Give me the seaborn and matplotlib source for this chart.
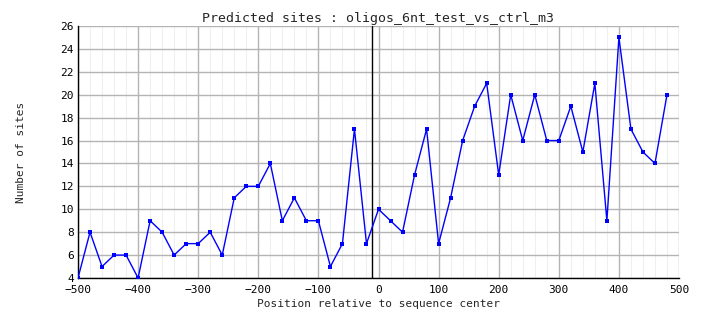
import matplotlib
matplotlib.use("Agg")
import matplotlib.pyplot as plt
import seaborn as sns
import pandas as pd
from matplotlib.ticker import MultipleLocator

# Site counts per 20-nt window, positions relative to sequence center
positions = [-500, -480, -460, -440, -420, -400, -380, -360, -340, -320,
             -300, -280, -260, -240, -220, -200, -180, -160, -140, -120,
             -100, -80, -60, -40, -20, 0, 20, 40, 60, 80,
             100, 120, 140, 160, 180, 200, 220, 240, 260, 280,
             300, 320, 340, 360, 380, 400, 420, 440, 460, 480]
sites = [4, 8, 5, 6, 6, 4, 9, 8, 6, 7,
         7, 8, 6, 11, 12, 12, 14, 9, 11, 9,
         9, 5, 7, 17, 7, 10, 9, 8, 13, 17,
         7, 11, 16, 19, 21, 13, 20, 16, 20, 16,
         16, 19, 15, 21, 9, 25, 17, 15, 14, 20]
center_mark = -10

x_ticks = [-500, -400, -300, -200, -100, 0, 100, 200, 300, 400, 500]
y_ticks = list(range(4, 27, 2))

df = pd.DataFrame({"position": positions, "sites": sites})

sns.set_style("white")
plt.rcParams["font.family"] = ["DejaVu Sans Mono"]

fig = plt.figure(figsize=(7.04, 3.28), dpi=100)
ax = fig.add_axes([78 / 704, 1 - 278 / 328, (679 - 78) / 704, (278 - 26) / 328])

ax.set_xlim(-500, 500)
ax.set_ylim(4, 26)
ax.set_xticks(x_ticks)
ax.set_yticks(y_ticks)
ax.xaxis.set_minor_locator(MultipleLocator(20))

ax.grid(which="minor", axis="x", color="#efefef", linewidth=0.8)
ax.grid(which="major", axis="both", color="#b4b4b4", linewidth=1.0)
ax.set_axisbelow(True)

ax.axvline(center_mark, color="black", linewidth=1.0)

sns.lineplot(data=df, x="position", y="sites", ax=ax, color="#0000ff",
             linewidth=1.0, marker="s", markersize=3, markeredgewidth=0,
             zorder=3)

for side in ("top", "right"):
    ax.spines[side].set_visible(False)
for side in ("left", "bottom"):
    ax.spines[side].set_color("black")
    ax.spines[side].set_linewidth(1.0)

ax.tick_params(axis="y", which="both", length=0, labelsize=8, pad=3,
               colors="black")
ax.tick_params(axis="x", which="both", length=0, labelsize=8, pad=5,
               colors="black")

ax.set_xlabel("Position relative to sequence center", fontsize=8, labelpad=3)
ax.set_ylabel("Number of sites", fontsize=8, labelpad=25)
ax.set_title("Predicted sites : oligos_6nt_test_vs_ctrl_m3", fontsize=9.5, pad=3)

fig.savefig("out.png", dpi=100)
